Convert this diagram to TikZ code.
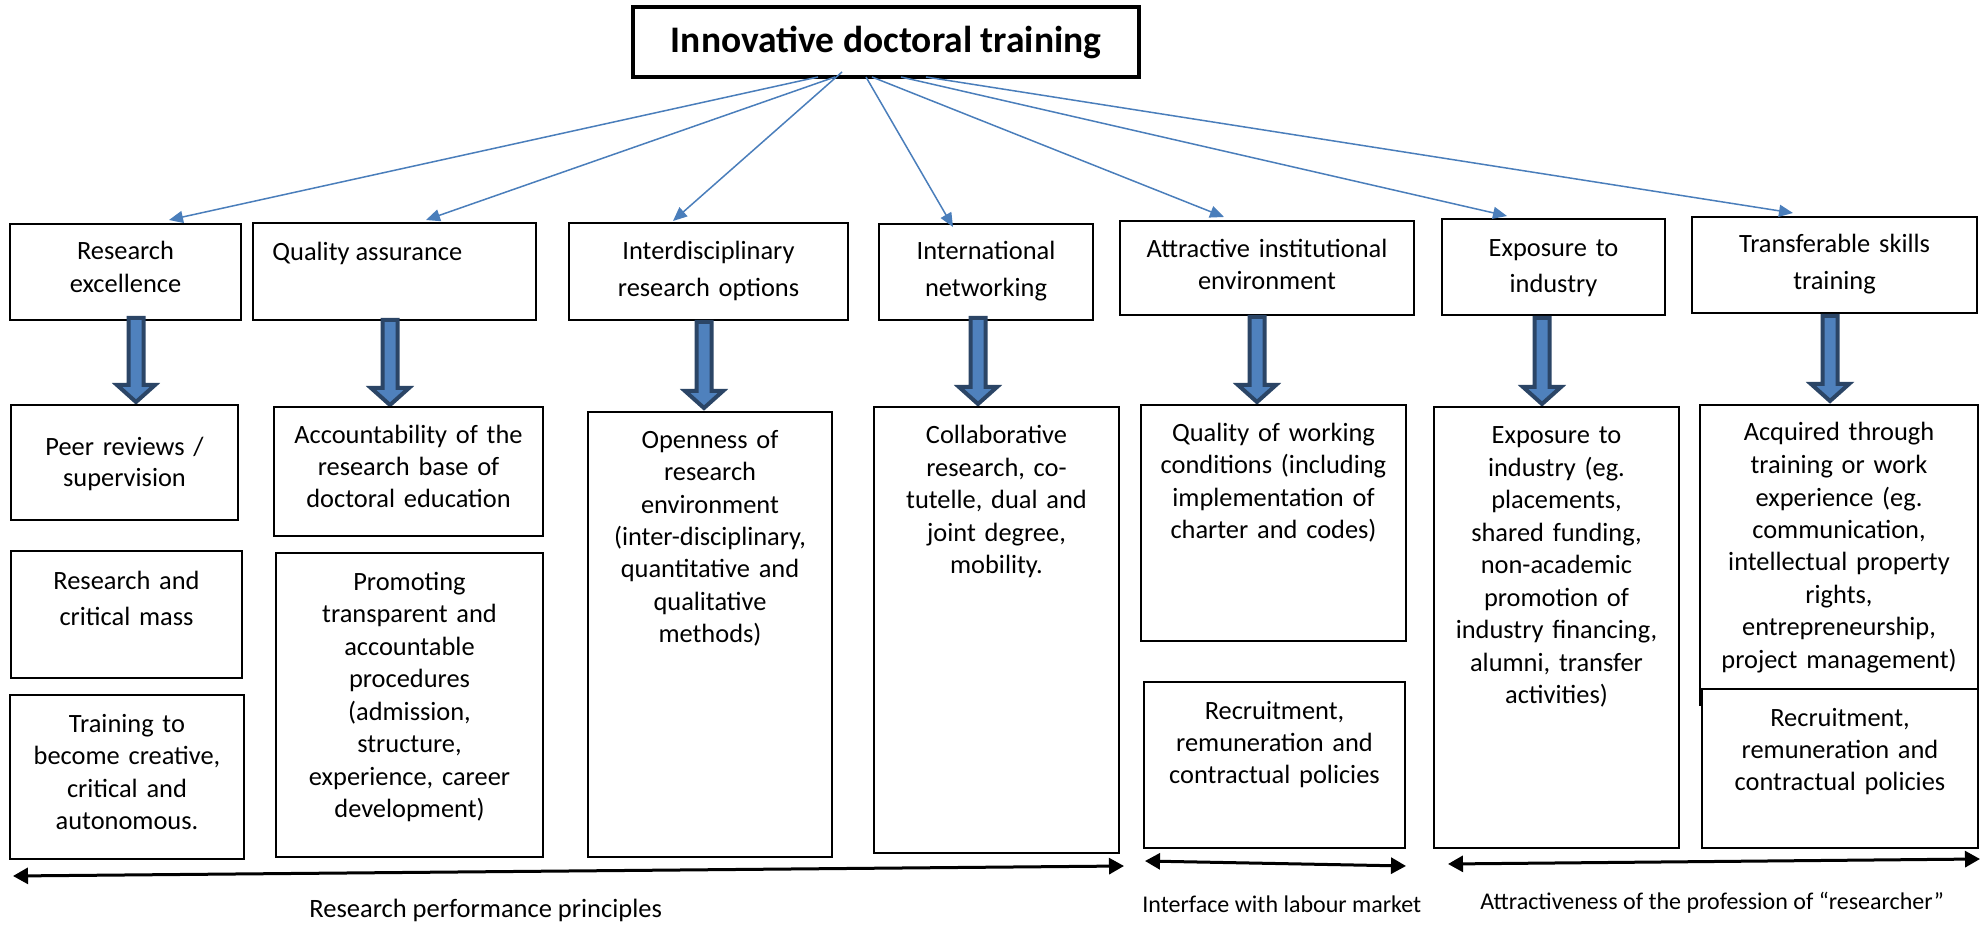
\documentclass[tikz,border=0pt]{standalone}
\usepackage{fontspec}
\setmainfont{Carlito}
\usetikzlibrary{arrows.meta,calc,fit}
\definecolor{connblue}{HTML}{4A7EBB}
\definecolor{arrfill}{HTML}{4F81BD}
\definecolor{arrline}{HTML}{2B4566}
\newcommand\dnarrow[3]{\filldraw[blockarrow] ({#1-7.5},#2) -- ({#1+7.5},#2) -- ({#1+7.5},{#3-19}) -- ({#1+19},{#3-19}) -- (#1,{#3-2}) -- ({#1-19},{#3-19}) -- ({#1-7.5},{#3-19}) -- cycle;}
\begin{document}
\begin{tikzpicture}[x=0.5pt,y=-0.5pt,
  box/.style={draw=black, line width=1pt, inner sep=0pt, outer sep=0pt},
  titlebox/.style={draw=black, line width=2pt, inner sep=0pt, outer sep=0pt},
  txt/.style={font=\fontsize{13.2}{16.25}\selectfont, text width=130pt, align=center, inner sep=0pt, anchor=base},
  txtA/.style={txt, font=\fontsize{13.2}{16}\selectfont},
  txtB/.style={txt, font=\fontsize{13.2}{16.5}\selectfont},
  txtC/.style={txt, font=\fontsize{13.2}{18}\selectfont},
  txtD/.style={txt, font=\fontsize{13.2}{18.5}\selectfont},
  single/.style={font=\fontsize{13.2}{16}\selectfont, inner sep=0pt, anchor=base west},
  lbl/.style={font=\fontsize{13.25}{16}\selectfont, inner sep=0pt, anchor=base west},
  lblsmall/.style={font=\fontsize{12}{14}\selectfont, inner sep=0pt, anchor=base west},
  conn/.style={draw=connblue, line width=0.75pt, -{Triangle[length=7pt,width=6pt]}},
  span/.style={draw=black, line width=1.5pt, {Triangle[length=7.5pt,width=8pt]}-{Triangle[length=7.5pt,width=8pt]}},
  blockarrow/.style={fill=arrfill, draw=arrline, line width=2pt, line join=miter}
]
\fill[white] (0,0) rectangle (1988,925);
\path[use as bounding box] (0,0) rectangle (1988,925);

% title
\node[titlebox, fit={(633,7)(1139,77)}] (title) {};
\node[font=\fontsize{18.75}{22}\selectfont\bfseries, inner sep=0pt, anchor=base] (titlet) at (886,53) {Innovative doctoral training};

% level-1 boxes
\node[box, fit={(10,224)(241,320)}] (b1) {};
\node[box, fit={(253,223)(536,320)}] (b2) {};
\node[box, fit={(569,223)(848,320)}] (b3) {};
\node[box, fit={(879,224)(1093,320)}] (b4) {};
\node[box, fit={(1120,221)(1414,315)}] (b5) {};
\node[box, fit={(1442,219)(1665,315)}] (b6) {};
\node[box, fit={(1692,217)(1977,313)}] (b7) {};

\node[txtB] (b1t) at (125.5,260) {Research\\excellence};
\node[single] (b2t) at (272,261) {Quality assurance};
\node[txtD] (b3t) at (708.5,260) {Interdisciplinary\\research options};
\node[txtD] (b4t) at (986,260) {International\\networking};
\node[txtA] (b5t) at (1267,258) {Attractive institutional\\environment};
\node[txtC] (b6t) at (1553.5,257) {Exposure to\\industry};
\node[txtD] (b7t) at (1834.5,253) {Transferable skills\\training};

% connectors from title
\draw[conn] ($(title.south)+(-68,0)$) -- ($(b1.north)+(43.5,-4)$);
\draw[conn] ($(title.south)+(-51,0)$) -- ($(b2.north)+(31.5,-3)$);
\draw[conn] ($(title.south)+(-44,-5)$) -- ($(b3.north)+(-35.5,-2)$);
\draw[conn] ($(title.south)+(-20,0)$) -- ($(b4.north)+(-33,3)$);
\draw[conn] ($(title.south)+(-14,0)$) -- ($(b5.north)+(-43,-4)$);
\draw[conn] ($(title.south)+(15,0)$) -- ($(b6.north)+(-46.5,-3)$);
\draw[conn] ($(title.south)+(40,0)$) -- ($(b7.north)+(-41.5,-4)$);

% block arrows
\dnarrow{136}{318}{404}
\dnarrow{390}{320}{407}
\dnarrow{704}{322}{410}
\dnarrow{978}{318}{406}
\dnarrow{1257}{317}{404}
\dnarrow{1542}{318}{406}
\dnarrow{1830}{316}{403}

% level-2 boxes
\node[box, fit={(11,405)(238,520)}] (c1) {};
\node[box, fit={(11,551)(242,678)}] (c2) {};
\node[box, fit={(10,695)(244,859)}] (c3) {};
\node[box, fit={(274,407)(543,536)}] (d1) {};
\node[box, fit={(276,553)(543,857)}] (d2) {};
\node[box, fit={(588,412)(832,857)}] (e1) {};
\node[box, fit={(874,407)(1119,853)}] (f1) {};
\node[box, fit={(1141,405)(1406,641)}] (g1) {};
\node[box, fit={(1144,682)(1405,848)}] (g2) {};
\node[box, fit={(1434,407)(1679,848)}] (h1) {};
\node[box, fit={(1700,405)(1978,689)}] (i1) {};
\node[box, fit={(1702,689)(1978,848)}] (i2) {};
\draw[line width=1pt] (i1.south west) -- ++(0,17);

\node[txtA] (c1t) at (124.5,455) {Peer reviews /\\supervision};
\node[txtC] (c2t) at (126.5,589) {Research and\\critical mass};
\node[txt] (c3t) at (127,732) {Training to\\become creative,\\critical and\\autonomous.};
\node[txtA] (d1t) at (408.5,444) {Accountability of the\\research base of\\doctoral education};
\node[txt] (d2t) at (409.5,590) {Promoting\\transparent and\\accountable\\procedures\\(admission,\\structure,\\experience, career\\development)};
\node[txt] (e1t) at (710,448) {Openness of\\research\\environment\\(inter-disciplinary,\\quantitative and\\qualitative\\methods)};
\node[txt] (f1t) at (996.5,444) {Collaborative\\research, co-\\tutelle, dual and\\joint degree,\\mobility.};
\node[txt] (g1t) at (1273.5,441.5) {Quality of working\\conditions (including\\implementation of\\charter and codes)};
\node[txtA] (g2t) at (1274.5,719) {Recruitment,\\remuneration and\\contractual policies};
\node[txt] (h1t) at (1556.5,444) {Exposure to\\industry (eg.\\placements,\\shared funding,\\non-academic\\promotion of\\industry financing,\\alumni, transfer\\activities)};
\node[txt] (i1t) at (1839,441) {Acquired through\\training or work\\experience (eg.\\communication,\\intellectual property\\rights,\\entrepreneurship,\\project management)};
\node[txtA] (i2t) at (1840,726) {Recruitment,\\remuneration and\\contractual policies};

% bottom spans
\coordinate (rpL) at (13,876);
\coordinate (rpR) at (1124,866);
\coordinate (ilL) at (1145,861);
\coordinate (ilR) at (1406,866);
\coordinate (apL) at (1448,864);
\coordinate (apR) at (1980,859);
\draw[span] (rpL) -- (rpR);
\draw[span] (ilL) -- (ilR);
\draw[span] (apL) -- (apR);
\node[lbl] (rpt) at (309,917) {Research performance principles};
\node[lblsmall] (ilt) at (1142,912) {Interface with labour market};
\node[lblsmall] (apt) at (1480,909) {Attractiveness of the profession of “researcher”};
\end{tikzpicture}
\end{document}
